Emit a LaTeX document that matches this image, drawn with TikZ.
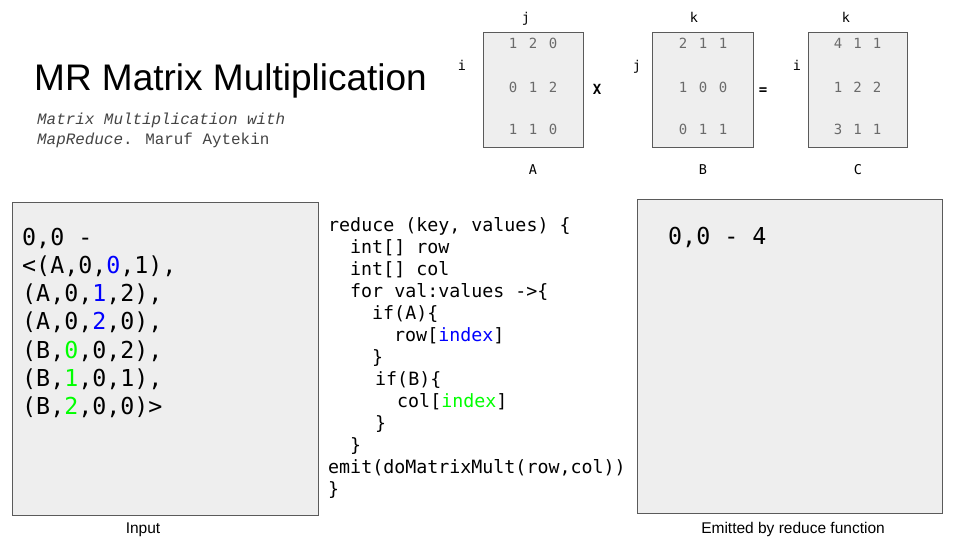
\documentclass[tikz,border=0pt]{standalone}
\usepackage{fontspec}
\setmainfont{Liberation Sans}
\newfontfamily\codefont{DejaVu Sans Mono}
\newfontfamily\subfont{Liberation Mono}
\definecolor{boxfill}{HTML}{EEEEEE}
\definecolor{boxline}{HTML}{5A5A5A}
\definecolor{digitgray}{HTML}{6A6A6A}
\definecolor{subgray}{HTML}{444444}
\definecolor{idxblue}{HTML}{0000FF}
\definecolor{idxgreen}{HTML}{00FF00}
\newcommand{\bl}[1]{\textcolor{idxblue}{#1}}
\newcommand{\gr}[1]{\textcolor{idxgreen}{#1}}
\begin{document}
\begin{tikzpicture}[x=1pt,y=-1pt,
  panel/.style={draw=boxline, fill=boxfill, line width=0.8pt, inner sep=0pt},
  txt/.style={inner sep=0pt, anchor=base west},
  digit/.style={inner sep=0pt, anchor=base, text=digitgray, font=\codefont\fontsize{14}{14}\selectfont},
  axis/.style={inner sep=0pt, anchor=base, font=\codefont\fontsize{13.5}{14}\selectfont},
  caption/.style={inner sep=0pt, anchor=base, font=\fontsize{15.5}{16}\selectfont},
  code/.style={txt, font=\codefont\fontsize{18.3}{22}\selectfont},
  pair/.style={txt, font=\codefont\fontsize{23.3}{28}\selectfont},
  cite/.style={txt, font=\subfont\fontsize{15.9}{18}\selectfont, text=subgray}]
\useasboundingbox (0,0) rectangle (960,540);
\fill[white] (0,0) rectangle (960,540);

% title and reference
\node[txt, font=\fontsize{37}{40}\selectfont] (title) at (34,91) {MR Matrix Multiplication};
\node[cite] (sub1) at (37,125) {\itshape Matrix Multiplication with};
\node[cite] (sub2) at (37,145) {{\itshape MapReduce}. Maruf Aytekin};

% matrices A x B = C
\node[panel, minimum width=100, minimum height=115] (matA) at (533,89.5) {};
\node[panel, minimum width=101, minimum height=115] (matB) at (702.5,89.5) {};
\node[panel, minimum width=99, minimum height=115] (matC) at (857.5,89.5) {};

\foreach \r/\yb/\p/\q/\s in {1/48.5/1/2/0, 2/93/0/1/2, 3/135/1/1/0}{
  \node[digit] (A\r a) at (513,\yb) {\p};
  \node[digit] (A\r b) at (533,\yb) {\q};
  \node[digit] (A\r c) at (553,\yb) {\s};
}
\foreach \r/\yb/\p/\q/\s in {1/48.5/2/1/1, 2/93/1/0/0, 3/135/0/1/1}{
  \node[digit] (B\r a) at (683,\yb) {\p};
  \node[digit] (B\r b) at (703,\yb) {\q};
  \node[digit] (B\r c) at (723,\yb) {\s};
}
\foreach \r/\yb/\p/\q/\s in {1/48.5/4/1/1, 2/93/1/2/2, 3/135/3/1/1}{
  \node[digit] (C\r a) at (838,\yb) {\p};
  \node[digit] (C\r b) at (857.5,\yb) {\q};
  \node[digit] (C\r c) at (877,\yb) {\s};
}

\node[axis] (Aj) at (526,22.5) {j};
\node[axis] (Bk) at (694,22.5) {k};
\node[axis] (Ck) at (846,22.5) {k};
\node[axis] (Ai) at (462,71) {i};
\node[axis] (Bj) at (637,71) {j};
\node[axis] (Ci) at (797,71) {i};
\node[axis, font=\codefont\bfseries\fontsize{14}{14}\selectfont] (times) at (597,95) {X};
\node[axis, font=\codefont\bfseries\fontsize{14}{14}\selectfont] (equals) at (763,94.5) {=};
\node[axis] (nameA) at (533,175) {A};
\node[axis] (nameB) at (703,175) {B};
\node[axis] (nameC) at (858,175) {C};

% input panel
\node[panel, minimum width=306, minimum height=313] (input) at (165,358.5) {};
\node[pair] (in1) at (22,245) {0,0 -};
\node[pair] (in2) at (22,273.3) {<(A,0,\bl{0},1),};
\node[pair] (in3) at (22,301.6) {(A,0,\bl{1},2),};
\node[pair] (in4) at (22,329.9) {(A,0,\bl{2},0),};
\node[pair] (in5) at (22,358.2) {(B,\gr{0},0,2),};
\node[pair] (in6) at (22,386.5) {(B,\gr{1},0,1),};
\node[pair] (in7) at (22,414.8) {(B,\gr{2},0,0)>};
\node[caption] (inputlabel) at (143,533) {Input};

% reduce function
\node[code] (c1) at (328,231) {reduce (key, values) \{};
\node[code] (c2) at (350,253) {int[] row};
\node[code] (c3) at (350,275) {int[] col};
\node[code] (c4) at (350,297) {for val:values ->\{};
\node[code] (c5) at (372,319) {if(A)\{};
\node[code] (c6) at (394,341) {row[\bl{index}]};
\node[code] (c7) at (372,363) {\}};
\node[code] (c8) at (375,385) {if(B)\{};
\node[code] (c9) at (397,407) {col[\gr{index}]};
\node[code] (c10) at (375,429) {\}};
\node[code] (c11) at (350,451) {\}};
\node[code] (c12) at (328,473) {emit(doMatrixMult(row,col))};
\node[code] (c13) at (328,495) {\}};

% output panel
\node[panel, minimum width=305, minimum height=314] (output) at (789.5,356) {};
\node[pair] (out1) at (668,244) {0,0 - 4};
\node[caption] (outputlabel) at (793,533) {Emitted by reduce function};
\end{tikzpicture}
\end{document}
